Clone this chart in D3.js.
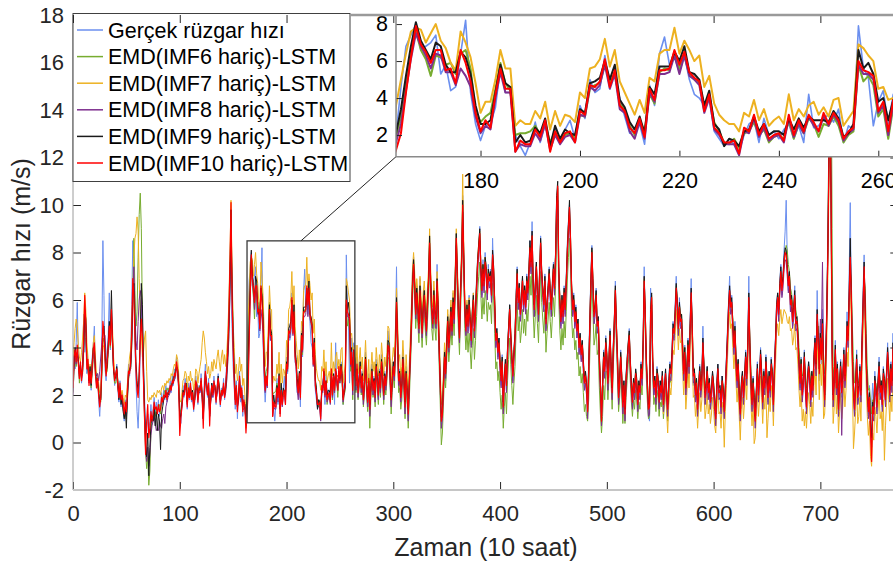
<!DOCTYPE html>
<html>
<head>
<meta charset="utf-8">
<script src="https://cdn.jsdelivr.net/npm/d3@7"></script>
<style>
  body { margin: 0; background: #fff; }
  svg { display: block; font-family: "Liberation Sans", Arial, sans-serif; }
</style>
</head>
<body>
<div id="chart"></div>
<script>
// time index is the array position (x = 0, 1, 2, ...)
var actual = [
3.4,3.9,3.1,4.2,5.9,3.6,2.8,3.3,2.5,3.0,
5.4,3.8,4.4,2.9,3.4,2.6,3.1,2.2,3.6,4.1,
4.9,3.0,2.4,2.9,1.8,1.1,2.0,4.4,8.5,6.2,
3.1,2.6,3.8,4.5,6.3,3.9,5.2,4.0,3.1,2.4,
2.9,3.3,2.2,1.7,2.6,1.5,2.1,1.4,0.9,1.8,
1.0,2.4,3.3,2.8,3.6,5.8,8.5,6.9,4.2,2.6,
1.3,0.6,1.8,3.9,5.6,4.8,3.2,1.9,0.7,0.4,
1.2,0.5,0.9,1.6,0.8,1.4,1.9,1.2,1.7,1.3,
1.8,1.1,1.5,2.1,1.6,2.2,1.8,2.4,1.7,2.3,
2.0,2.6,2.1,2.8,2.4,3.1,2.7,3.6,2.9,2.2,
1.5,0.8,1.6,2.4,1.9,2.7,2.2,1.4,2.5,1.8,
2.6,1.7,2.2,1.3,2.0,2.8,2.3,1.6,2.4,2.1,
2.9,1.8,1.0,2.6,3.3,2.4,1.9,2.7,1.1,2.0,
2.5,1.9,2.8,2.2,1.6,2.4,2.9,2.1,1.5,2.3,
2.0,2.7,1.8,2.6,3.4,4.2,5.8,7.6,6.1,4.8,
3.2,2.3,1.4,2.6,1.0,2.2,3.0,1.7,2.4,1.1,
2.0,1.4,0.9,2.0,4.6,6.8,7.4,8.0,6.6,6.8,
7.0,7.4,5.3,5.8,4.4,4.6,6.4,8.2,4.3,2.6,
1.7,2.5,2.6,3.5,5.7,4.3,4.3,2.0,1.4,0.9,
1.6,2.7,1.6,2.6,1.4,2.4,1.7,2.3,2.8,1.8,
3.6,2.9,5.0,4.3,4.5,6.3,4.8,5.2,4.0,3.0,
2.1,2.4,2.6,1.5,4.7,3.6,6.4,7.3,5.8,6.2,
5.4,6.3,5.0,4.2,4.0,3.6,4.0,2.2,1.8,1.4,
1.8,1.5,1.1,2.0,2.6,2.8,1.6,2.9,2.0,2.2,
1.8,2.3,2.6,1.8,2.5,1.6,4.2,2.4,2.5,2.9,
3.1,2.7,3.4,1.6,2.5,2.3,7.9,5.6,5.1,2.5,
3.8,4.4,2.6,4.2,3.1,2.2,3.6,1.9,2.8,3.4,
2.1,3.0,1.6,2.7,3.8,2.2,1.5,2.9,1.2,2.5,
3.3,2.0,2.8,1.7,3.5,2.4,1.9,3.1,2.2,3.7,
2.6,1.8,3.0,2.3,3.2,4.7,4.1,2.5,1.6,2.9,
3.4,2.7,4.6,7.4,4.0,2.2,3.1,1.7,2.6,3.9,
2.4,1.3,3.2,2.0,1.0,2.8,4.1,5.6,7.2,7.8,
6.3,5.1,6.6,5.4,4.6,6.9,5.2,4.3,5.9,6.4,
5.0,4.4,6.1,7.0,8.6,6.2,5.3,4.9,6.5,5.1,
4.8,7.5,5.2,3.6,2.1,0.6,1.4,2.8,3.9,2.6,
4.3,5.4,3.7,4.9,5.8,4.4,6.3,5.0,7.2,8.8,
6.5,5.1,4.2,6.8,7.9,10.4,7.3,5.2,4.5,5.9,
4.7,6.2,5.0,4.1,5.6,6.3,4.4,5.8,6.9,7.8,
8.1,9.1,7.0,6.2,7.7,6.4,8.0,7.2,6.1,7.5,
6.6,7.3,6.0,8.6,7.0,5.5,4.0,4.8,3.6,4.4,
3.1,2.4,3.7,1.9,2.8,3.5,2.2,4.1,4.9,5.8,
4.2,3.4,2.6,3.9,4.6,6.3,7.4,5.6,6.7,5.2,
6.1,7.0,5.6,6.6,5.5,7.1,6.2,7.4,8.5,7.2,
9.3,6.4,5.3,6.8,7.6,6.0,5.1,7.3,8.7,6.9,
6.2,5.6,7.1,4.8,5.9,6.6,7.4,6.1,5.4,6.8,
7.6,6.3,8.1,10.4,9.6,6.8,5.6,4.9,6.2,5.0,
6.6,5.4,7.0,8.4,9.3,10.0,8.2,6.1,5.4,6.3,
4.9,5.8,4.4,5.2,3.8,4.6,3.5,4.3,3.1,2.2,
3.0,2.1,1.4,3.5,5.2,7.0,8.3,6.4,5.0,5.8,
6.5,4.6,5.3,3.2,2.1,0.9,2.6,3.9,2.8,4.5,
3.4,2.2,3.7,4.8,2.9,1.9,4.1,5.2,6.8,4.4,
3.3,1.6,2.8,3.9,2.4,1.3,2.6,1.0,2.9,3.6,
4.1,4.8,3.0,2.2,1.5,2.7,1.9,3.1,2.3,1.4,
2.6,2.0,3.4,2.5,4.6,7.4,5.0,3.1,2.2,1.1,
0.9,6.5,4.8,3.1,2.0,2.8,1.7,3.2,2.4,1.5,
2.6,1.9,3.0,1.4,2.3,3.1,1.8,1.2,2.6,3.4,
2.8,3.9,5.1,4.4,5.8,7.0,5.5,4.6,6.1,4.9,
5.3,3.6,2.7,4.1,2.0,3.2,4.4,3.0,5.2,6.9,
4.5,2.4,3.1,1.8,2.7,1.2,2.5,3.3,2.0,2.9,
4.9,2.8,1.6,2.5,3.2,1.9,2.7,1.4,2.3,3.0,
2.1,1.5,0.8,2.6,3.3,1.9,2.4,1.3,2.8,2.0,
1.1,2.5,3.6,4.8,5.9,7.0,5.4,6.2,4.6,3.8,
5.1,3.2,2.4,3.5,1.8,1.0,2.6,3.0,1.7,2.8,
3.9,2.5,4.4,7.0,3.6,2.2,1.4,2.8,1.6,1.0,
2.3,3.4,1.8,2.9,4.0,2.6,1.5,3.1,2.2,3.7,
2.4,1.7,3.0,2.1,3.6,2.7,1.3,3.4,4.5,5.9,
6.3,5.1,6.8,7.5,6.2,7.0,8.1,8.9,10.2,7.8,
6.4,7.2,5.5,6.0,4.9,5.7,6.6,4.8,5.3,4.2,
3.1,2.3,3.6,1.8,2.7,3.9,2.2,1.4,2.9,3.4,
2.5,1.6,3.0,2.1,3.8,4.5,2.9,6.4,4.0,2.6,
4.9,3.3,5.6,2.4,1.6,3.8,5.9,8.8,12.6,14.6,
9.5,3.2,1.5,2.9,4.3,2.0,3.4,1.1,2.6,3.5,
1.9,2.8,4.0,2.4,3.6,5.5,4.1,7.2,10.1,6.0,
3.3,2.0,1.2,2.7,3.9,1.6,2.4,3.3,1.8,4.6,
6.4,7.9,5.2,3.1,2.0,1.2,2.4,0.8,1.6,2.5,
1.4,3.0,2.1,1.3,2.7,3.6,1.9,2.6,1.5,3.2,
2.4,1.7,3.1,4.2,2.6,1.8,3.4,2.2,4.6,3.0
];

var imf6 = [
2.1,3.0,3.6,3.2,3.5,3.4,2.5,3.0,2.8,2.9,
3.8,4.9,4.6,3.3,3.0,2.6,2.8,2.3,2.9,3.5,
3.9,2.8,2.6,2.4,2.1,1.8,1.7,2.8,4.2,4.4,
3.6,2.9,3.0,3.7,4.4,4.0,5.0,4.1,3.0,2.5,
2.5,2.8,2.3,2.0,2.1,1.9,1.8,1.4,1.1,1.3,
1.0,1.8,2.6,3.0,3.1,4.0,5.8,8.6,6.4,4.9,
5.5,7.8,9.6,10.5,9.0,5.3,2.8,1.0,-0.4,-1.1,
-0.6,-1.8,-1.2,0.5,0.9,1.0,1.4,1.1,1.4,1.3,
1.5,1.6,1.2,1.7,1.9,2.0,2.2,2.1,2.3,2.2,
2.3,2.2,2.5,2.4,2.8,2.7,3.1,3.3,2.9,2.4,
1.4,1.3,1.7,2.0,2.2,2.3,2.4,1.8,2.1,2.0,
2.3,2.0,2.2,1.7,1.9,2.4,2.3,2.0,2.3,2.4,
2.5,2.1,1.4,2.0,2.7,2.5,2.1,2.3,1.5,1.8,
2.3,2.1,2.4,2.3,2.0,2.1,2.6,2.4,1.9,2.0,
2.2,2.3,2.1,2.2,2.7,3.5,4.6,6.5,8.9,6.8,
4.8,3.2,2.1,2.2,1.7,1.8,2.4,2.1,2.0,1.7,
1.6,1.7,1.2,1.9,3.0,4.8,6.4,7.6,6.6,6.1,
5.2,6.3,6.2,5.8,5.9,5.3,6.4,6.6,5.6,3.3,
2.7,3.0,3.2,4.5,5.9,4.8,4.4,2.0,2.1,2.1,
2.2,2.5,2.0,2.6,1.6,2.2,1.8,2.0,2.1,1.9,
3.1,3.0,4.5,4.7,4.8,5.8,4.8,5.4,3.7,3.4,
2.5,2.0,2.8,2.2,4.2,3.7,5.4,5.6,5.5,6.4,
5.6,6.3,5.3,5.0,4.8,3.5,4.1,2.7,2.2,1.6,
1.5,1.8,1.3,2.1,2.2,2.7,2.0,2.3,1.6,1.9,
2.0,1.8,2.8,1.8,2.6,2.1,2.9,2.6,1.9,2.6,
2.5,3.0,2.5,1.6,2.0,2.2,5.8,4.9,5.2,4.7,
3.0,3.4,1.8,3.5,2.9,2.1,3.0,1.8,2.3,2.8,
2.0,2.5,1.5,2.1,3.1,2.0,1.3,2.2,0.6,1.9,
2.7,1.9,2.2,1.5,2.8,2.2,1.6,2.5,1.9,3.0,
2.5,1.6,2.4,2.0,2.6,3.6,3.5,2.4,1.2,2.1,
2.8,2.3,3.5,5.3,3.9,2.1,2.3,1.4,1.8,3.0,
2.1,1.0,2.3,1.6,0.6,1.8,3.1,4.4,6.0,7.0,
6.1,4.8,5.6,5.0,4.2,5.7,4.9,4.0,5.0,5.6,
4.7,4.1,5.1,6.0,7.6,6.0,4.8,4.3,5.5,4.8,
4.3,6.1,5.0,3.2,1.6,-0.1,0.4,1.7,2.9,2.3,
3.4,4.5,3.4,4.1,4.8,4.1,5.2,4.5,6.1,7.8,
6.2,4.7,3.7,5.5,6.8,9.0,7.0,4.8,3.9,4.7,
3.8,4.6,3.9,3.1,4.1,4.8,3.5,4.3,5.3,6.3,
7.0,7.6,6.2,5.2,6.1,5.4,6.4,6.0,5.1,5.9,
5.6,5.8,5.0,6.7,6.0,4.6,3.1,3.4,2.6,3.0,
2.1,1.4,2.0,0.6,1.5,2.1,1.2,2.6,3.5,4.4,
3.3,2.4,1.6,2.5,3.2,4.7,5.9,4.7,5.3,4.2,
4.7,5.6,4.6,5.2,4.5,5.6,5.1,5.9,7.0,6.2,
7.5,5.5,4.4,5.3,6.2,5.0,4.2,5.8,7.2,5.9,
5.2,4.6,5.6,3.8,4.6,5.2,5.9,5.1,4.4,5.3,
6.1,5.3,6.6,8.6,9.4,6.0,4.7,3.9,4.8,4.1,
5.1,4.4,5.5,6.8,7.8,8.6,7.3,5.3,4.4,4.8,
3.9,4.3,3.5,3.8,2.8,3.2,2.5,2.9,2.1,1.3,
1.6,1.1,0.9,1.8,3.6,5.4,6.8,5.5,4.1,4.4,
5.0,3.7,3.9,2.3,1.2,0.4,1.1,2.4,1.8,3.0,
3.0,1.8,2.7,3.8,2.5,1.4,3.1,4.3,5.7,4.1,
2.8,1.3,1.9,2.9,2.0,0.8,1.7,0.8,1.9,2.6,
3.3,3.8,2.6,1.7,1.1,1.8,1.4,2.2,1.8,1.0,
1.7,1.4,2.4,2.0,3.4,6.1,4.7,2.7,1.7,1.0,
1.1,4.8,5.5,2.8,1.6,1.9,1.3,2.2,1.9,1.1,
1.7,1.5,2.1,1.0,1.6,2.3,1.4,0.9,1.8,2.5,
2.6,3.3,4.5,4.5,5.4,6.6,6.0,5.1,5.8,5.4,
5.4,4.3,3.3,4.0,2.8,3.3,4.2,3.5,4.7,6.1,
5.1,3.2,3.1,2.4,2.7,1.8,2.4,3.1,2.5,2.8,
4.0,3.3,2.3,2.4,3.1,2.4,2.6,2.0,2.2,2.9,
2.5,1.9,1.4,2.3,3.0,2.4,2.3,1.8,2.6,2.4,
1.7,2.3,3.2,4.2,5.3,6.1,5.9,5.8,5.2,4.4,
4.8,3.7,3.0,3.4,2.5,1.7,2.4,2.9,2.3,2.7,
3.5,3.0,3.9,5.6,4.4,3.0,2.1,2.6,2.1,1.5,
2.1,3.0,2.4,2.8,3.6,3.1,2.2,2.8,2.6,3.3,
2.9,2.3,2.8,2.5,3.2,3.1,2.2,3.0,4.0,5.4,
6.2,5.8,6.4,7.0,6.7,6.9,7.4,8.0,8.3,8.1,
7.5,7.2,6.5,6.3,5.8,5.7,6.1,5.6,5.3,4.9,
4.0,3.3,3.5,2.8,2.9,3.5,3.0,2.3,2.7,3.1,
3.0,2.5,2.9,2.7,3.3,3.9,3.6,4.8,4.9,3.8,
4.1,3.9,4.6,3.7,2.9,3.5,5.0,8.5,13.2,16.5,
17.9,9.0,3.2,2.6,3.6,3.0,3.2,2.4,2.6,3.1,
2.8,2.7,3.5,3.0,3.3,4.6,4.6,5.7,7.2,6.8,
4.9,3.4,2.5,2.6,3.3,2.6,2.5,2.9,2.6,3.9,
5.2,6.9,6.5,4.6,3.1,2.2,2.3,1.7,1.2,1.8,
1.7,2.5,2.5,2.0,2.5,3.1,2.6,2.6,2.1,2.8,
2.7,2.3,2.8,3.6,3.3,2.6,3.0,2.8,3.7,3.6
];

var imf7 = [
3.6,4.2,4.8,5.2,4.9,4.1,3.6,3.4,3.8,4.4,
5.1,6.3,5.6,4.2,3.6,3.0,3.3,2.8,3.4,4.2,
4.5,3.6,2.9,2.9,2.5,2.1,2.3,3.2,4.1,4.0,
3.6,3.2,3.5,4.0,4.5,4.7,5.1,4.8,3.6,3.0,
2.8,3.0,2.6,2.2,2.4,2.0,2.2,1.9,1.6,2.0,
1.9,2.5,3.1,3.6,3.9,5.0,6.4,7.8,8.6,8.8,
9.5,8.9,6.9,5.4,4.6,3.6,3.8,4.4,4.7,3.0,
1.8,1.7,1.9,1.8,2.0,1.9,2.1,2.0,1.9,2.2,
2.1,2.2,2.0,2.3,2.4,2.2,2.5,2.4,2.6,2.5,
2.7,2.6,2.9,2.8,3.1,3.3,3.2,3.7,3.5,2.9,
1.8,1.7,2.1,2.6,2.7,3.0,2.9,2.2,2.8,2.6,
3.0,2.6,2.7,2.2,2.5,3.1,3.0,2.5,2.9,3.2,
3.5,4.2,4.7,4.4,3.8,3.4,2.9,3.2,2.7,2.9,
3.4,3.0,3.5,3.3,3.1,3.6,3.9,3.4,3.0,3.6,
3.9,3.3,3.7,3.2,3.8,4.6,6.0,7.9,10.2,7.2,
5.0,4.0,2.9,3.3,2.6,3.0,3.6,3.0,3.3,2.4,
2.7,2.0,0.6,3.6,5.0,6.4,7.6,7.8,7.7,7.0,
7.5,8.0,7.1,6.7,5.9,5.5,7.6,7.0,6.2,4.8,
3.2,3.8,3.8,5.0,6.6,5.6,5.6,2.5,2.8,2.6,
2.6,3.3,2.9,3.8,2.3,3.3,2.5,3.1,3.0,2.7,
4.3,4.0,5.6,5.7,6.1,7.2,5.7,6.6,4.9,4.3,
3.7,3.1,3.9,3.2,5.1,4.9,6.4,6.6,6.6,7.8,
6.4,7.1,6.6,6.0,6.3,4.6,5.2,3.7,3.1,2.8,
2.6,2.6,2.2,3.2,3.0,3.9,2.8,3.4,2.5,2.8,
3.0,2.6,4.2,2.8,3.4,3.0,3.6,3.8,3.1,3.5,
3.0,3.9,4.0,2.5,2.9,3.3,6.9,6.7,6.3,6.0,
4.5,4.6,3.9,4.0,4.1,3.2,4.1,2.9,3.4,4.0,
3.1,3.6,2.6,3.3,4.3,3.2,2.5,3.5,2.2,3.1,
3.8,3.0,3.4,2.7,4.0,3.4,2.8,3.7,3.1,4.2,
3.6,2.8,3.6,3.2,3.8,4.9,4.8,3.6,2.6,3.4,
4.0,3.6,4.8,6.5,5.2,3.4,3.7,2.7,3.2,4.3,
3.4,2.3,3.7,2.9,2.0,3.3,4.5,5.8,7.3,8.0,
7.2,6.1,6.9,6.3,5.5,7.0,6.2,5.3,6.3,6.8,
6.0,5.4,6.5,7.3,9.0,7.3,6.2,5.7,6.8,6.0,
5.6,7.2,6.2,4.5,3.1,1.6,1.9,3.0,4.2,3.5,
4.5,5.6,4.5,5.2,6.0,5.2,6.4,5.7,7.3,9.0,
7.5,5.9,4.9,6.8,8.2,11.3,8.3,6.0,5.1,6.0,
5.2,6.1,5.4,4.6,5.6,6.3,5.0,5.8,6.8,7.7,
8.4,8.9,7.5,6.6,7.5,6.8,7.8,7.4,6.5,7.3,
6.9,7.1,6.3,7.9,7.3,5.9,4.4,4.7,3.9,4.3,
3.4,2.7,3.5,1.9,2.7,3.4,2.5,3.9,4.8,5.7,
4.6,3.7,2.9,3.8,4.5,6.0,7.2,6.0,6.6,5.5,
6.0,6.9,5.9,6.5,5.8,6.9,6.4,7.2,8.3,7.5,
8.7,6.8,5.7,6.6,7.5,6.3,5.5,7.1,8.5,7.2,
6.5,5.9,6.9,5.1,5.9,6.5,7.2,6.4,5.7,6.6,
7.4,6.6,7.9,10.1,10.7,7.3,6.0,5.2,6.1,5.4,
6.4,5.7,6.8,8.1,9.1,9.8,8.6,6.6,5.7,6.1,
5.2,5.6,4.8,5.1,4.1,4.5,3.8,4.2,3.4,2.6,
2.9,2.4,1.5,3.1,4.9,6.7,8.1,6.8,5.4,5.7,
6.3,5.0,5.2,3.6,2.5,1.0,2.4,3.7,3.1,4.3,
3.7,2.6,3.5,4.6,3.3,2.2,3.9,5.1,6.5,4.9,
3.6,2.0,2.7,3.7,2.8,1.6,2.5,1.3,2.7,3.4,
4.1,4.6,3.4,2.5,1.8,2.6,2.2,3.0,2.6,1.7,
2.5,2.2,3.2,2.8,4.2,6.9,5.5,3.5,2.5,1.5,
1.6,5.5,6.2,3.5,2.4,2.7,2.0,3.0,2.7,1.8,
2.3,1.8,2.4,1.2,1.7,2.3,1.3,0.4,1.6,2.3,
2.0,2.7,3.9,3.7,4.5,5.6,4.9,3.9,4.8,4.2,
4.3,3.0,2.0,2.9,1.4,2.1,3.2,2.3,3.9,5.4,
3.9,1.9,2.0,1.1,1.6,0.6,1.4,2.1,1.3,1.8,
3.3,2.2,1.0,1.4,2.1,1.2,1.6,0.8,1.2,1.9,
1.4,0.7,0.4,1.4,2.2,1.2,1.3,0.6,1.7,1.2,
-0.2,1.3,2.4,3.5,4.7,5.5,4.8,5.0,4.0,3.1,
3.8,2.5,1.7,2.4,1.1,0.1,1.4,1.9,1.0,1.7,
2.7,1.8,3.1,5.2,3.1,1.6,0.7,1.6,-0.05,0.2,
1.1,2.2,1.1,1.8,2.8,1.9,0.8,1.9,1.4,2.5,
0.2,1.0,1.9,1.3,2.4,1.9,0.7,2.2,3.3,4.6,
5.0,4.5,5.2,5.6,5.0,5.3,5.6,5.5,5.4,5.1,
5.0,5.3,4.7,4.8,4.1,4.4,5.0,3.9,4.0,3.3,
2.2,1.5,2.2,0.9,1.4,0.7,1.3,0.6,1.5,2.1,
1.6,0.8,1.7,1.1,2.4,3.1,2.0,4.3,3.2,1.8,
3.3,2.4,3.9,1.0,1.2,2.3,4.3,6.9,10.5,13.5,
9.5,2.9,0.8,1.5,2.8,1.2,2.0,0.4,1.3,2.1,
1.0,1.5,2.6,1.5,2.2,3.8,3.2,5.1,6.6,5.1,
2.5,-0.26,0.4,1.3,2.4,0.8,1.1,1.9,0.9,3.0,
4.7,6.3,4.5,2.3,1.1,0.3,0.9,-0.6,-1.0,0.4,
0.1,1.5,1.1,0.4,1.3,2.1,1.0,1.3,0.5,1.8,
-0.75,0.7,1.7,2.7,1.8,0.9,2.0,1.3,2.9,2.2
];

var imf8 = [
2.0,3.2,3.7,3.3,3.7,3.4,2.7,3.1,2.7,3.0,
4.0,5.3,4.9,3.3,3.2,2.5,3.0,2.5,3.1,3.7,
3.8,3.0,2.8,2.9,2.6,3.0,3.6,4.2,4.7,4.6,
4.5,3.6,3.3,3.9,4.7,4.3,5.4,4.2,3.1,2.7,
2.8,2.9,2.4,2.0,2.2,1.8,1.9,1.5,1.2,1.4,
1.1,1.9,2.7,3.0,3.1,4.1,6.0,7.4,5.5,4.3,
3.9,5.1,6.0,6.4,6.1,4.4,2.7,1.2,-0.3,-0.8,
-0.2,-1.0,-0.5,0.3,0.7,0.9,1.1,0.8,0.5,0.6,
0.5,0.9,0.7,0.6,1.0,1.2,0.8,1.5,1.7,1.9,
2.0,2.1,2.3,2.4,2.6,2.6,2.9,3.1,3.0,2.4,
1.1,1.1,1.5,1.9,2.0,2.2,2.3,1.6,2.1,1.9,
2.2,1.8,2.0,1.5,1.7,2.3,2.2,1.8,2.1,2.1,
2.4,1.9,1.0,1.9,2.6,2.4,2.0,2.2,1.2,1.7,
2.2,1.9,2.3,2.2,1.8,2.0,2.5,2.2,1.7,1.9,
2.0,2.2,1.9,2.1,2.6,3.4,4.4,6.4,8.6,6.4,
4.5,3.0,1.9,2.1,1.5,1.7,2.3,1.9,1.9,1.4,
1.4,1.5,0.9,1.6,2.6,4.4,6.1,7.5,6.8,6.3,
5.6,6.4,6.3,5.4,5.4,4.7,5.6,5.2,4.6,3.0,
2.1,2.5,2.3,4.0,5.4,4.3,4.3,1.1,1.5,1.4,
1.4,2.1,1.7,2.6,1.2,2.0,1.5,1.9,2.0,1.6,
3.1,3.0,4.6,4.4,4.7,5.8,4.5,5.3,3.4,3.2,
2.2,1.8,2.7,1.8,4.3,3.8,5.3,5.3,5.4,6.3,
5.3,6.3,5.2,5.0,4.7,3.2,4.0,2.3,2.0,1.5,
1.5,1.5,0.9,2.2,2.1,2.9,1.9,2.4,1.7,1.9,
2.0,1.6,2.9,1.9,2.6,2.1,3.0,2.5,2.2,3.0,
2.5,3.1,2.7,1.7,2.1,2.3,5.8,5.3,5.3,5.0,
3.2,3.6,2.0,3.7,3.1,2.2,3.1,1.9,2.4,3.0,
2.1,2.6,1.6,2.3,3.3,2.2,1.5,2.5,1.1,2.1,
2.8,2.0,2.4,1.7,3.0,2.4,1.8,2.7,2.1,3.2,
2.6,1.8,2.6,2.2,2.8,3.9,3.8,2.6,1.5,2.4,
3.0,2.6,3.8,5.7,4.2,2.4,2.7,1.7,2.2,3.3,
2.4,1.2,2.7,1.9,0.9,2.3,3.5,4.8,6.4,7.3,
6.4,5.2,6.1,5.4,4.6,6.2,5.3,4.4,5.4,6.0,
5.1,4.5,5.6,6.5,8.1,6.5,5.3,4.8,6.0,5.2,
4.8,6.6,5.4,3.7,2.2,0.6,1.0,2.2,3.4,2.7,
3.8,4.9,3.8,4.5,5.3,4.5,5.7,5.0,6.6,8.3,
6.8,5.2,4.2,6.1,7.4,9.7,7.6,5.4,4.5,5.4,
4.6,5.5,4.8,4.0,5.0,5.7,4.4,5.2,6.2,7.2,
7.9,8.5,7.0,6.1,7.0,6.3,7.3,6.9,6.0,6.8,
6.5,6.7,5.9,7.6,6.9,5.5,4.0,4.3,3.5,3.9,
3.0,2.3,3.1,1.2,2.3,3.0,2.1,3.5,4.4,5.3,
4.2,3.3,2.5,3.4,4.1,5.6,6.8,5.6,6.2,5.1,
5.6,6.5,5.5,6.1,5.4,6.5,6.0,6.8,7.9,7.1,
8.4,6.4,5.3,6.2,7.1,5.9,5.1,6.7,8.1,6.8,
6.1,5.5,6.5,4.7,5.5,6.1,6.8,6.0,5.3,6.2,
7.0,6.2,7.5,9.6,10.2,6.9,5.6,4.8,5.7,5.0,
6.0,5.3,6.4,7.7,8.7,9.5,8.2,6.2,5.3,5.7,
4.8,5.2,4.4,4.7,3.7,4.1,3.4,3.8,3.0,2.2,
2.5,2.0,1.0,2.7,4.5,6.3,7.7,6.4,5.0,5.3,
5.9,4.6,4.8,3.2,2.1,0.7,2.0,3.3,2.7,3.9,
3.3,2.2,3.1,4.2,2.9,1.8,3.5,4.7,6.1,4.5,
3.2,1.6,2.3,3.3,2.4,1.2,2.1,0.9,2.3,3.0,
3.7,4.2,3.0,2.1,1.4,2.2,1.8,2.6,2.2,1.3,
2.1,1.8,2.8,2.4,3.8,6.5,5.1,3.1,2.1,1.1,
1.2,5.1,5.8,3.1,2.0,2.3,1.6,2.6,2.3,1.4,
2.1,1.8,2.5,1.3,1.9,2.6,1.7,1.1,2.1,2.8,
2.6,3.3,4.5,4.3,5.1,6.2,5.5,4.5,5.4,4.8,
4.9,3.6,2.6,3.5,2.0,2.7,3.8,2.9,4.5,6.0,
4.5,2.5,2.6,1.7,2.2,1.1,2.0,2.7,1.9,2.4,
3.9,2.8,1.6,2.0,2.7,1.8,2.2,1.4,1.8,2.5,
2.0,1.3,0.7,2.0,2.8,1.8,1.9,1.2,2.3,1.8,
1.0,1.9,3.0,4.1,5.3,6.1,5.4,5.6,4.6,3.7,
4.4,3.1,2.3,3.0,1.7,0.9,2.0,2.5,1.6,2.3,
3.3,2.4,3.7,5.8,3.7,2.2,1.3,2.2,1.4,0.6,
1.7,2.8,1.7,2.4,3.4,2.5,1.4,2.5,2.0,3.1,
2.3,1.6,2.5,1.9,3.0,2.5,1.3,2.8,3.9,5.3,
5.8,5.1,6.2,6.9,6.1,6.5,7.3,7.7,7.6,7.0,
6.3,6.7,5.5,5.7,4.8,5.2,5.9,4.7,4.8,4.1,
3.0,2.2,3.0,1.7,2.2,3.3,2.1,1.2,2.3,2.9,
2.4,1.5,2.5,1.9,3.2,3.9,2.8,5.1,4.0,3.5,
5.2,4.6,7.6,3.4,1.5,3.1,5.1,7.7,11.5,14.2,
10.2,3.7,1.5,2.3,3.6,2.0,2.8,1.1,2.1,2.9,
0.3,2.3,3.4,2.3,3.0,4.6,4.0,5.9,7.5,5.9,
3.3,1.9,1.1,2.1,3.2,1.6,1.9,2.7,1.7,3.8,
5.5,7.1,5.3,3.1,1.9,1.0,1.6,0.6,-0.2,1.2,
0.9,2.3,1.9,1.2,2.1,2.9,1.8,2.1,1.3,2.6,
2.2,1.5,2.5,3.5,2.6,1.7,2.8,2.1,3.7,3.0
];

var imf9 = [
2.6,3.4,4.0,3.6,3.8,3.5,2.9,3.3,2.8,3.2,
4.1,5.6,5.2,3.4,3.3,2.6,3.2,2.4,3.4,4.0,
4.0,3.1,2.5,2.6,2.2,1.7,1.8,3.0,4.8,4.9,
3.8,3.0,3.2,4.2,5.1,4.6,6.4,4.5,3.0,2.8,
2.7,3.2,2.6,1.8,2.3,1.6,1.9,1.3,1.0,1.4,
0.6,2.0,2.9,3.1,3.2,4.3,6.3,6.7,4.9,3.4,
2.6,2.1,3.0,4.6,6.7,5.8,3.4,1.5,0.1,-0.6,
0.4,-1.4,-0.2,0.8,1.1,0.9,1.5,0.7,1.3,0.5,
1.2,0.9,-0.3,1.2,1.5,1.8,2.0,1.9,2.1,2.0,
2.2,2.3,2.4,2.5,2.7,2.8,3.0,3.2,3.1,2.5,
0.9,1.2,1.6,2.2,2.1,2.4,2.5,1.7,2.2,2.0,
2.4,1.9,2.2,1.6,1.8,2.5,2.5,1.9,2.2,2.3,
2.6,2.0,1.0,2.1,2.9,2.6,2.1,2.4,1.1,1.8,
2.5,2.1,2.5,2.4,1.9,2.2,2.8,2.3,1.8,2.1,
2.1,2.4,2.0,2.3,3.0,3.8,5.0,7.0,9.8,6.5,
4.3,2.9,1.8,2.3,1.5,1.9,2.7,2.0,2.2,1.5,
1.7,1.6,0.8,2.1,3.4,5.2,6.8,8.1,7.1,6.6,
6.1,7.0,6.8,5.8,5.4,5.4,6.5,6.2,5.3,3.6,
2.6,2.6,2.8,4.3,5.8,4.8,4.6,1.6,2.0,1.6,
1.7,2.4,2.1,2.9,1.4,2.5,1.8,2.3,2.1,2.0,
3.4,3.2,4.8,4.9,5.1,6.0,5.0,5.8,3.9,3.5,
2.7,2.3,3.0,2.1,4.6,4.2,5.7,5.7,5.7,6.5,
6.0,6.8,5.4,5.3,5.0,3.6,4.4,2.6,2.3,1.4,
1.8,1.7,1.4,2.2,2.3,3.0,2.2,2.6,2.0,2.2,
2.2,2.0,2.9,2.3,2.9,2.4,3.0,2.8,2.8,2.8,
2.7,3.3,2.9,1.9,2.1,2.6,6.6,5.6,5.9,5.3,
3.8,4.0,2.8,3.9,3.5,2.6,3.1,2.3,2.8,3.4,
2.5,2.9,2.0,2.4,3.6,2.6,1.9,2.6,1.6,2.4,
3.1,2.4,2.7,2.1,3.3,2.8,2.1,3.0,2.5,3.5,
3.0,2.1,2.9,2.6,3.1,4.3,4.2,3.0,1.9,2.7,
3.4,3.0,4.1,6.1,4.7,2.8,3.0,2.1,2.5,3.6,
2.8,1.7,3.0,2.3,1.4,2.6,3.9,5.2,6.8,7.7,
6.8,5.6,6.5,5.8,5.0,6.6,5.7,4.8,5.8,6.4,
5.5,4.9,6.0,6.9,8.7,6.9,5.7,5.2,6.4,5.6,
5.2,6.9,5.8,4.1,2.6,1.1,1.4,2.6,3.8,3.1,
4.2,5.3,4.2,4.9,5.7,4.9,6.1,5.4,7.0,8.8,
7.2,5.6,4.6,6.5,7.8,10.2,8.0,5.8,4.9,5.8,
5.1,6.0,5.3,4.5,5.5,6.2,4.9,5.7,6.7,7.7,
8.4,9.0,7.5,6.6,7.5,6.8,7.8,7.4,6.5,7.3,
7.0,7.2,6.4,8.1,7.4,6.0,4.5,4.8,4.0,4.4,
3.5,2.8,3.6,1.7,2.8,3.5,2.6,4.0,4.9,5.8,
4.7,3.8,3.0,3.9,4.6,6.1,7.3,6.1,6.7,5.6,
6.1,7.0,6.0,6.6,5.9,7.0,6.5,7.3,8.5,7.6,
8.9,6.9,5.8,6.7,7.6,6.4,5.6,7.2,8.6,7.3,
6.6,6.0,7.0,5.2,6.0,6.6,7.3,6.5,5.8,6.7,
7.5,6.7,8.0,10.4,11.0,7.4,6.1,5.3,6.2,5.5,
6.5,5.8,6.9,8.2,9.2,10.2,8.7,6.7,5.8,6.2,
5.3,5.7,4.9,5.2,4.2,4.6,3.9,4.3,3.5,2.7,
3.0,2.5,1.6,3.2,5.0,6.8,8.2,6.9,5.5,5.8,
6.4,5.1,5.3,3.7,2.6,1.2,2.5,3.8,3.2,4.4,
3.8,2.7,3.6,4.7,3.4,2.3,4.0,5.2,6.6,5.0,
3.7,2.1,2.8,3.8,2.9,1.7,2.6,1.4,2.8,3.5,
4.2,4.7,3.5,2.6,1.9,2.7,2.3,3.1,2.7,1.8,
2.6,2.3,3.3,2.9,4.3,7.0,5.6,3.6,2.6,1.6,
1.7,5.6,6.3,3.6,2.5,2.8,2.1,3.1,2.8,1.9,
2.6,2.3,3.0,1.8,2.4,3.1,2.2,1.6,2.6,3.3,
3.1,3.8,5.0,4.8,5.6,6.7,6.0,5.0,5.9,5.3,
5.4,4.1,3.1,4.0,2.5,3.2,4.3,3.4,5.0,6.5,
5.0,3.0,3.1,2.2,2.7,1.6,2.5,3.2,2.4,2.9,
4.4,3.3,2.1,2.5,3.2,2.3,2.7,1.9,2.3,3.0,
2.5,1.8,1.2,2.5,3.3,2.3,2.4,1.7,2.8,2.3,
1.5,2.4,3.5,4.6,5.8,6.6,5.9,6.1,5.1,4.2,
4.9,3.6,2.8,3.5,2.2,1.4,2.5,3.0,2.1,2.8,
3.8,2.9,4.2,6.3,4.2,2.7,1.8,2.7,1.9,1.1,
2.2,3.3,2.2,2.9,3.9,3.0,1.9,3.0,2.5,3.6,
2.8,2.1,3.0,2.4,3.5,3.0,1.8,3.3,4.4,5.8,
6.3,5.6,6.7,7.4,6.6,7.0,7.8,8.2,8.1,7.5,
6.8,7.2,6.0,6.2,5.3,5.7,6.4,5.2,5.3,4.6,
3.5,2.7,3.5,2.2,2.7,3.8,2.6,1.7,2.8,3.4,
2.9,2.0,3.0,2.4,3.7,4.4,3.3,5.6,4.5,3.1,
4.6,3.7,5.2,3.0,2.0,3.6,5.6,8.2,12.0,14.8,
10.8,4.2,2.0,2.8,4.1,2.5,3.3,1.6,2.6,3.4,
2.3,2.8,3.9,2.8,3.5,5.1,4.5,6.5,8.6,6.4,
3.8,2.4,1.6,2.6,3.7,2.1,2.4,3.2,2.2,4.3,
6.0,7.6,5.8,3.6,2.4,1.5,2.1,0.9,0.2,1.7,
1.4,2.8,2.4,1.7,2.6,3.4,2.3,2.6,1.8,3.1,
2.7,2.0,3.0,4.0,3.1,2.2,3.3,2.6,4.2,3.5
];

var imf10 = [
2.3,3.6,3.9,3.4,4.1,3.3,2.7,3.4,2.6,3.1,
4.4,6.2,5.0,3.1,3.5,2.4,3.0,2.5,3.2,3.9,
4.2,2.9,2.3,2.7,2.0,1.5,1.9,3.3,5.1,4.6,
3.5,2.8,3.4,4.0,4.9,4.1,5.6,4.3,3.2,2.6,
2.9,3.1,2.4,1.9,2.5,1.8,2.0,1.6,1.2,1.7,
1.3,2.2,3.0,2.9,3.4,4.6,6.9,6.2,4.4,3.0,
2.2,1.9,2.8,4.3,5.2,4.4,2.6,1.0,-0.5,0.9,
1.6,0.2,0.6,1.3,0.9,1.2,1.7,1.4,1.5,1.2,
1.6,1.3,1.4,1.9,1.7,2.0,1.9,2.2,1.8,2.1,
2.1,2.4,2.2,2.6,2.5,2.9,2.8,3.4,3.0,2.3,
0.3,1.0,1.5,2.1,2.0,2.5,2.3,1.5,2.3,1.9,
2.5,1.8,2.1,1.4,1.9,2.6,2.4,1.7,2.3,2.2,
2.7,1.9,0.6,2.2,3.0,2.5,2.0,2.5,0.7,1.9,
2.4,2.0,2.6,2.3,1.7,2.3,2.7,2.2,1.6,2.2,
2.0,2.5,1.9,2.4,3.1,3.9,5.3,7.4,10.1,6.0,
3.9,2.6,1.6,2.4,1.3,2.0,2.8,1.9,2.3,1.3,
1.8,1.5,0.4,1.2,2.1,4.3,6.2,7.9,6.9,6.5,
5.9,6.6,6.6,5.5,5.6,4.8,6.6,5.9,4.9,3.2,
2.2,2.8,2.4,4.2,5.6,4.5,4.5,1.1,1.7,1.5,
1.5,2.3,1.9,2.8,1.1,2.2,1.6,2.1,2.2,1.6,
3.3,3.1,4.7,4.6,4.9,6.1,4.6,5.5,3.6,3.3,
2.4,2.1,2.9,1.9,4.5,3.9,5.5,5.5,5.6,6.6,
5.8,6.5,5.4,5.1,4.9,3.3,4.2,2.4,2.1,1.6,
1.6,1.7,1.0,2.4,2.2,3.1,2.0,2.6,1.8,2.0,
2.1,1.7,3.1,2.0,2.8,2.2,3.1,2.7,2.2,3.2,
2.6,3.2,2.8,1.8,2.2,2.4,6.0,5.5,5.4,5.2,
3.3,3.8,2.2,3.9,3.3,2.4,3.3,2.1,2.6,3.2,
2.3,2.8,1.8,2.5,3.5,2.4,1.7,2.7,1.4,2.3,
3.0,2.2,2.6,1.9,3.2,2.6,2.0,2.9,2.3,3.4,
2.8,2.0,2.8,2.4,3.0,4.1,4.0,2.8,1.8,2.6,
3.2,2.8,4.0,5.9,4.4,2.6,2.9,1.9,2.4,3.5,
2.6,1.5,2.9,2.1,1.2,2.5,3.7,5.0,6.6,7.5,
6.6,5.4,6.3,5.6,4.8,6.4,5.5,4.6,5.6,6.2,
5.3,4.7,5.8,6.7,8.4,6.7,5.5,5.0,6.2,5.4,
5.0,6.8,5.6,3.9,2.4,0.9,1.2,2.4,3.6,2.9,
4.0,5.1,4.0,4.7,5.5,4.7,5.9,5.2,6.8,8.6,
7.0,5.4,4.4,6.3,7.6,10.0,7.8,5.6,4.7,5.6,
4.9,5.8,5.1,4.3,5.3,6.0,4.7,5.5,6.5,7.5,
8.2,8.8,7.3,6.4,7.3,6.6,7.6,7.2,6.3,7.1,
6.8,7.0,6.2,7.9,7.2,5.8,4.3,4.6,3.8,4.2,
3.3,2.6,3.4,1.5,2.6,3.3,2.4,3.8,4.7,5.6,
4.5,3.6,2.8,3.7,4.4,5.9,7.1,5.9,6.5,5.4,
5.9,6.8,5.8,6.4,5.7,6.8,6.3,7.1,8.2,7.4,
8.7,6.7,5.6,6.5,7.4,6.2,5.4,7.0,8.4,7.1,
6.4,5.8,6.8,5.0,5.8,6.4,7.1,6.3,5.6,6.5,
7.3,6.5,7.8,10.0,10.8,7.2,5.9,5.1,6.0,5.3,
6.3,5.6,6.7,8.0,9.0,9.9,8.5,6.5,5.6,6.0,
5.1,5.5,4.7,5.0,4.0,4.4,3.7,4.1,3.3,2.5,
2.8,2.3,1.3,3.0,4.8,6.6,8.0,6.7,5.3,5.6,
6.2,4.9,5.1,3.5,2.4,0.9,2.3,3.6,3.0,4.2,
3.6,2.5,3.4,4.5,3.2,2.1,3.8,5.0,6.4,4.8,
3.5,1.9,2.6,3.6,2.7,1.5,2.4,1.2,2.6,3.3,
4.0,4.5,3.3,2.4,1.7,2.5,2.1,2.9,2.5,1.6,
2.4,2.1,3.1,2.7,4.1,6.8,5.4,3.4,2.4,1.4,
1.5,5.4,6.1,3.4,2.3,2.6,1.9,2.9,2.6,1.7,
2.4,2.1,2.8,1.6,2.2,2.9,2.0,1.4,2.4,3.1,
2.9,3.6,4.8,4.6,5.4,6.5,5.8,4.8,5.7,5.1,
5.2,3.9,2.9,3.8,2.3,3.0,4.1,3.2,4.8,6.3,
4.8,2.8,2.9,2.0,2.5,1.4,2.3,3.0,2.2,2.7,
4.2,3.1,1.9,2.3,3.0,2.1,2.5,1.7,2.1,2.8,
2.3,1.6,1.0,2.3,3.1,2.1,2.2,1.5,2.6,2.1,
1.3,2.2,3.3,4.4,5.6,6.4,5.7,5.9,4.9,4.0,
4.7,3.4,2.6,3.3,2.0,1.2,2.3,2.8,1.9,2.6,
3.6,2.7,4.0,6.1,4.0,2.5,1.6,2.5,1.7,0.9,
2.0,3.1,2.0,2.7,3.7,2.8,1.7,2.8,2.3,3.4,
2.6,1.9,2.8,2.2,3.3,2.8,1.6,3.1,4.2,5.6,
6.1,5.4,6.5,7.2,6.4,6.8,7.6,8.0,7.9,7.3,
6.6,7.0,5.8,6.0,5.1,5.5,6.2,5.0,5.1,4.4,
3.3,2.5,3.3,2.0,2.5,3.6,2.4,1.5,2.6,3.2,
2.7,1.8,2.8,2.2,3.5,4.2,3.1,5.4,4.3,2.9,
4.4,3.5,5.0,2.8,1.8,3.4,5.4,8.0,11.8,15.2,
10.6,4.0,1.8,2.6,3.9,2.3,3.1,1.4,2.4,3.2,
2.1,2.6,3.7,2.6,3.3,4.9,4.3,6.2,7.8,6.2,
3.6,2.2,1.4,2.4,3.5,1.9,2.2,3.0,2.0,4.1,
5.8,7.4,5.6,3.4,2.2,1.3,1.9,0.4,-0.8,1.5,
1.2,2.6,2.2,1.5,2.4,3.2,2.1,2.4,1.6,2.9,
2.5,1.8,2.8,3.8,2.9,2.0,3.1,2.4,4.0,3.3
];

var seriesNames = ["Gerçek rüzgar hızı", "EMD(IMF6 hariç)-LSTM", "EMD(IMF7 hariç)-LSTM",
                   "EMD(IMF8 hariç)-LSTM", "EMD(IMF9 hariç)-LSTM", "EMD(IMF10 hariç)-LSTM"];
var seriesValues = [actual, imf6, imf7, imf8, imf9, imf10];
var seriesColors = ["#6b8fef", "#77ac30", "#edb120", "#7e2f8e", "#1a1a1a", "#ff0000"];

var mainXTicks = [0, 100, 200, 300, 400, 500, 600, 700];
var mainYTicks = [-2, 0, 2, 4, 6, 8, 10, 12, 14, 16, 18];
var insetXTicks = [180, 200, 220, 240, 260];
var insetYTicks = [2, 4, 6, 8];
var zoomXRange = [163, 264];
var zoomYRange = [0.83, 8.49];

function drawChart(selector) {
    var width = 893, height = 566;
    var font = '"Liberation Sans", Arial, sans-serif';
    var textColor = "#262626";
    var plainNum = function(d) { return String(d); };   // hyphen minus like the original

    var svg = d3.select(selector)
        .append("svg")
        .attr("width", width)
        .attr("height", height);

    var x = d3.scaleLinear().domain([0, 773]).range([73, 898.3]);
    var y = d3.scaleLinear().domain([-2, 18]).range([490, 15]);

    svg.append("defs").append("clipPath").attr("id", "mainClip")
        .append("rect")
        .attr("x", x(0)).attr("y", y(18))
        .attr("width", x(773) - x(0)).attr("height", y(-2) - y(18));

    // main lines
    var mainLine = d3.line()
        .x(function(d, i) { return x(i); })
        .y(function(d) { return y(d); });

    var plot = svg.append("g").attr("clip-path", "url(#mainClip)");
    seriesValues.forEach(function(vals, k) {
        plot.append("path")
            .datum(vals)
            .attr("fill", "none")
            .attr("stroke", seriesColors[k])
            .attr("stroke-width", k == 5 ? 1.2 : 1)
            .attr("stroke-linejoin", "round")
            .attr("d", mainLine);
    });

    // axes (ticks point inward like matlab)
    var gx = svg.append("g")
        .attr("transform", "translate(0,490)")
        .call(d3.axisBottom(x).tickValues(mainXTicks).tickSize(-8).tickPadding(15).tickFormat(plainNum));
    var gy = svg.append("g")
        .attr("transform", "translate(73,0)")
        .call(d3.axisLeft(y).tickValues(mainYTicks).tickSize(-8).tickPadding(9).tickFormat(plainNum));
    var gr = svg.append("g")
        .attr("transform", "translate(" + x(773) + ",0)")
        .call(d3.axisRight(y).tickValues(mainYTicks).tickSize(-8).tickFormat(""));

    [gx, gy, gr].forEach(function(g) {
        g.attr("font-family", font).attr("font-size", 22).attr("color", textColor);
        g.select(".domain").remove();
        g.selectAll("text").attr("fill", textColor);
    });

    svg.append("line")
        .attr("x1", 73).attr("x2", 73).attr("y1", 15).attr("y2", 490)
        .attr("stroke", "#9c9c9c").attr("stroke-width", 1);
    svg.append("line")
        .attr("x1", 73).attr("x2", x(773)).attr("y1", 490).attr("y2", 490)
        .attr("stroke", "#c6c6c6").attr("stroke-width", 2);

    svg.append("text")
        .attr("x", 486).attr("y", 556)
        .attr("text-anchor", "middle")
        .attr("font-family", font).attr("font-size", 25)
        .attr("fill", textColor)
        .text("Zaman (10 saat)");

    svg.append("text")
        .attr("transform", "translate(30,254) rotate(-90)")
        .attr("text-anchor", "middle")
        .attr("font-family", font).attr("font-size", 25)
        .attr("fill", textColor)
        .text("Rüzgar hızı (m/s)");

    // zoom rectangle
    svg.append("rect")
        .attr("x", x(zoomXRange[0])).attr("y", y(zoomYRange[1]))
        .attr("width", x(zoomXRange[1]) - x(zoomXRange[0]))
        .attr("height", y(zoomYRange[0]) - y(zoomYRange[1]))
        .attr("fill", "none").attr("stroke", "#3a3a3a").attr("stroke-width", 1.3);

    // legend
    var lg = svg.append("g");
    lg.append("rect")
        .attr("x", 73).attr("y", 13.5).attr("width", 277).attr("height", 168)
        .attr("fill", "#fff").attr("stroke", "#404040").attr("stroke-width", 1);
    seriesNames.forEach(function(name, k) {
        var ry = 30 + k * 26.6;
        lg.append("line")
            .attr("x1", 77).attr("x2", 103).attr("y1", ry).attr("y2", ry)
            .attr("stroke", seriesColors[k]).attr("stroke-width", 1.5);
        lg.append("text")
            .attr("x", 108).attr("y", ry + 7.6)
            .attr("font-family", font).attr("font-size", 21.5)
            .attr("fill", "#000")
            .text(name);
    });

    // inset
    var ix = d3.scaleLinear().domain(zoomXRange).range([396, 898.2]);
    var iy = d3.scaleLinear().domain(zoomYRange).range([156.7, 15]);

    svg.append("line")
        .attr("x1", 396).attr("y1", 156.7)
        .attr("x2", x((zoomXRange[0] + zoomXRange[1]) / 2)).attr("y2", y(zoomYRange[1]))
        .attr("stroke", "#222").attr("stroke-width", 1);

    svg.select("defs").append("clipPath").attr("id", "insetClip")
        .append("rect")
        .attr("x", 396).attr("y", 15)
        .attr("width", 898.2 - 396).attr("height", 156.7 - 15);

    var inset = svg.append("g");
    inset.append("rect")
        .attr("x", 396).attr("y", 15)
        .attr("width", 898.2 - 396).attr("height", 156.7 - 15)
        .attr("fill", "#fff");

    var insetLine = d3.line()
        .defined(function(d, i) { return i >= zoomXRange[0] - 1 && i <= zoomXRange[1] + 1; })
        .x(function(d, i) { return ix(i); })
        .y(function(d) { return iy(d); });

    var ip = inset.append("g").attr("clip-path", "url(#insetClip)");
    seriesValues.forEach(function(vals, k) {
        ip.append("path")
            .datum(vals)
            .attr("fill", "none")
            .attr("stroke", seriesColors[k])
            .attr("stroke-width", k == 0 ? 1.6 : 2)
            .attr("stroke-linejoin", "round")
            .attr("d", insetLine);
    });

    var igx = inset.append("g")
        .attr("transform", "translate(0,156.7)")
        .call(d3.axisBottom(ix).tickValues(insetXTicks).tickSize(-6).tickPadding(16).tickFormat(plainNum));
    var igy = inset.append("g")
        .attr("transform", "translate(396,0)")
        .call(d3.axisLeft(iy).tickValues(insetYTicks).tickSize(-6).tickPadding(8).tickFormat(plainNum));
    [igx, igy].forEach(function(g) {
        g.attr("font-family", font).attr("font-size", 21.5).attr("color", textColor);
        g.select(".domain").remove();
        g.selectAll("text").attr("fill", "#000");
    });
    inset.append("line")
        .attr("x1", 396).attr("x2", 396).attr("y1", 15).attr("y2", 156.7)
        .attr("stroke", "#8a8a8a").attr("stroke-width", 1.5);
    inset.append("line")
        .attr("x1", 396).attr("x2", 898.2).attr("y1", 156.7).attr("y2", 156.7)
        .attr("stroke", "#8a8a8a").attr("stroke-width", 1.5);

    // top border of main axes drawn last
    var gt = svg.append("g")
        .attr("transform", "translate(0,15)")
        .call(d3.axisTop(x).tickValues(mainXTicks).tickSize(-8).tickFormat(""))
        .attr("color", textColor);
    gt.select(".domain").remove();
    svg.append("line")
        .attr("x1", 350).attr("x2", x(773)).attr("y1", 15).attr("y2", 15)
        .attr("stroke", "#9a9a9a").attr("stroke-width", 2.5);
}

drawChart("#chart");
</script>
</body>
</html>
